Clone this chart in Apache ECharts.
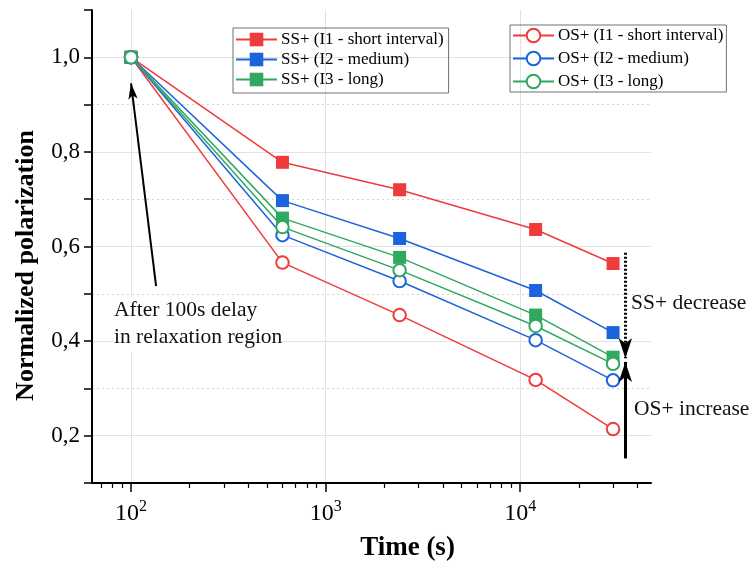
<!DOCTYPE html>
<html>
<head>
<meta charset="utf-8">
<script src="https://cdn.jsdelivr.net/npm/echarts@6/dist/echarts.min.js"></script>
<style>
html,body{margin:0;padding:0;background:#fff;}
#chart{width:751px;height:568px;}
</style>
</head>
<body>
<div id="chart"></div>
<script>
// ---- data ----
const times = [100, 600, 2400, 12000, 30000];
const ssI1 = [1.0, 0.778, 0.720, 0.636, 0.564];
const ssI2 = [1.0, 0.697, 0.617, 0.507, 0.418];
const ssI3 = [1.0, 0.660, 0.577, 0.455, 0.366];
const osI1 = [1.0, 0.566, 0.455, 0.318, 0.214];
const osI2 = [1.0, 0.624, 0.527, 0.402, 0.317];
const osI3 = [1.0, 0.641, 0.550, 0.432, 0.352];
const seriesNames = [
  'SS+ (I1 - short interval)', 'SS+ (I2 - medium)', 'SS+ (I3 - long)',
  'OS+ (I1 - short interval)', 'OS+ (I2 - medium)', 'OS+ (I3 - long)'
];
const majorXTicks = [100, 1000, 10000];
const minorXTicks = [70, 80, 90, 200, 300, 400, 500, 600, 700, 800, 900,
  2000, 3000, 4000, 5000, 6000, 7000, 8000, 9000, 20000, 30000, 40000];
// annotation arrows (data coordinates)
const arrowDelay = [[134.5, 0.516], [100, 0.945]];
const arrowSS = [[34700, 0.587], [34700, 0.364]];
const arrowOS = [[34700, 0.152], [34700, 0.356]];

const RED = '#ef3b3b', BLUE = '#1c64dc', GREEN = '#30a860';
const FONT = 'Liberation Serif';

const zip = (xs, ys) => xs.map((x, i) => [x, ys[i]]);

function mkSeries(name, ys, color, symbol) {
  return {
    name: name, type: 'line', data: zip(times, ys),
    symbol: symbol, symbolSize: symbol === 'rect' ? 13 : 12.5,
    lineStyle: {color: color, width: 1.5},
    itemStyle: {color: color, borderColor: color, borderWidth: symbol === 'emptyCircle' ? 1.2 : 0},
    emphasis: {disabled: true}, animation: false, z: 3
  };
}

const chart = echarts.init(document.getElementById('chart'), null, {renderer: 'canvas'});
const option = {
  animation: false,
  backgroundColor: '#fff',
  grid: {left: 92, top: 10, right: 100, bottom: 85, containLabel: false},
  xAxis: [{
    type: 'log', logBase: 10, min: 63, max: 47000,
    name: 'Time (s)', nameLocation: 'middle', nameGap: 52,
    nameTextStyle: {fontFamily: FONT, fontWeight: 'bold', fontSize: 27, color: '#000', padding: [0, 0, 0, 72]},
    axisLine: {lineStyle: {color: '#000', width: 2}},
    axisTick: {show: true, length: 9, lineStyle: {color: '#000', width: 1.5}, customValues: majorXTicks},
    axisLabel: {
      customValues: majorXTicks, margin: 16,
      formatter: v => '{b|10}{s|' + Math.round(Math.log10(v)) + '}',
      rich: {
        b: {fontFamily: FONT, fontSize: 24, color: '#000'},
        s: {fontFamily: FONT, fontSize: 16, color: '#000', verticalAlign: 'top', padding: [0, 0, 13, 0]}
      }
    },
    splitLine: {show: true, lineStyle: {color: '#e2e2e2', width: 1}},
    minorTick: {show: false}
  }, {
    type: 'log', logBase: 10, min: 63, max: 47000, position: 'bottom',
    axisLine: {show: false},
    axisTick: {show: true, length: 5, lineStyle: {color: '#000', width: 1.2}, customValues: minorXTicks},
    axisLabel: {show: false},
    splitLine: {show: false}
  }],
  yAxis: [{
    type: 'value', min: 0.1, max: 1.1, interval: 0.1,
    name: 'Normalized polarization', nameLocation: 'middle', nameGap: 53,
    nameTextStyle: {fontFamily: FONT, fontWeight: 'bold', fontSize: 26, color: '#000', padding: [0, 38, 0, 0]},
    axisLine: {show: true, lineStyle: {color: '#000', width: 2}},
    axisTick: {show: true, length: 8, lineStyle: {color: '#000', width: 1.5}},
    axisLabel: {
      margin: 12, fontFamily: FONT, fontSize: 23, color: '#000',
      formatter: v => {
        const k = Math.round(v * 10);
        if (k % 2 !== 0 || k < 2 || k > 10) return '';
        return (k / 10).toFixed(1).replace('.', ',');
      }
    },
    splitLine: {show: true, lineStyle: {color: ['transparent', '#e2e2e2'], width: 1}}
  }, {
    type: 'value', min: 0.1, max: 1.1, interval: 0.2, position: 'left',
    axisLine: {show: false}, axisTick: {show: false}, axisLabel: {show: false},
    splitLine: {show: true, showMinLine: false, showMaxLine: false,
      lineStyle: {color: '#d4d4d4', width: 1, type: [2, 3]}}
  }],
  legend: [{
    left: 233, top: 28, orient: 'vertical',
    data: seriesNames.slice(0, 3),
    itemWidth: 41, itemHeight: 17, itemGap: 3,
    padding: [3, 5, 5, 2],
    borderColor: '#707070', borderWidth: 1,
    textStyle: {fontFamily: FONT, fontSize: 17, color: '#000', padding: [0, 0, 0, -1]},
    selectedMode: false
  }, {
    left: 510, top: 25, orient: 'vertical',
    data: seriesNames.slice(3),
    itemWidth: 41, itemHeight: 17, itemGap: 6,
    padding: [2, 3, 2, 2],
    borderColor: '#707070', borderWidth: 1,
    textStyle: {fontFamily: FONT, fontSize: 17, color: '#000', padding: [0, 0, 0, -1]},
    selectedMode: false
  }],
  series: [
    mkSeries(seriesNames[0], ssI1, RED, 'rect'),
    mkSeries(seriesNames[1], ssI2, BLUE, 'rect'),
    mkSeries(seriesNames[2], ssI3, GREEN, 'rect'),
    mkSeries(seriesNames[3], osI1, RED, 'emptyCircle'),
    mkSeries(seriesNames[4], osI2, BLUE, 'emptyCircle'),
    mkSeries(seriesNames[5], osI3, GREEN, 'emptyCircle'),
    {
      type: 'line', data: [], silent: true, z: 5,
      markLine: {
        silent: true, animation: false,
        label: {show: false}, emphasis: {disabled: true},
        data: [
          [{coord: arrowDelay[0], symbol: 'none', lineStyle: {color: '#000', width: 2, type: 'solid'}},
           {coord: arrowDelay[1], symbol: 'arrow', symbolSize: [7, 16]}],
          [{coord: arrowSS[0], symbol: 'none', lineStyle: {color: '#000', width: 3, type: [2, 2]}},
           {coord: arrowSS[1], symbol: 'arrow', symbolSize: [10, 20]}],
          [{coord: arrowOS[0], symbol: 'none', lineStyle: {color: '#000', width: 3, type: 'solid'}},
           {coord: arrowOS[1], symbol: 'arrow', symbolSize: [10, 20]}]
        ]
      }
    }
  ],
  graphic: [
    {type: 'text', left: 114, top: 297, silent: true, z: 10,
     style: {text: 'After 100s delay\nin relaxation region', font: '21.5px "Liberation Serif"', fill: '#111', lineHeight: 27,
             backgroundColor: '#fff'}},
    {type: 'text', left: 631, top: 292, silent: true,
     style: {text: 'SS+ decrease', font: '21.5px "Liberation Serif"', fill: '#111'}},
    {type: 'text', left: 634, top: 398, silent: true,
     style: {text: 'OS+ increase', font: '21.5px "Liberation Serif"', fill: '#111'}}
  ]
};
chart.setOption(option);
</script>
</body>
</html>
